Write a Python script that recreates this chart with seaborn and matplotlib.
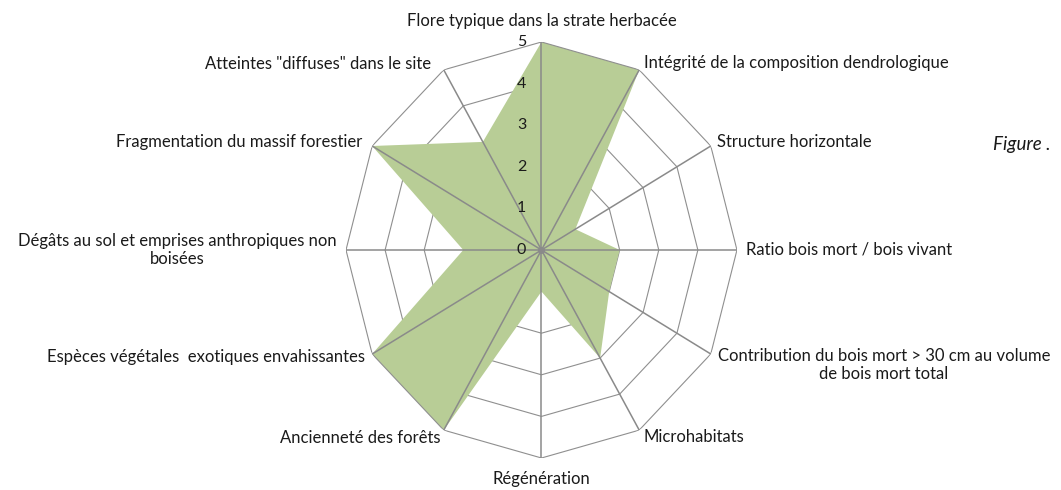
import numpy as np
import pandas as pd
import matplotlib
matplotlib.use("Agg")
import matplotlib.pyplot as plt
import seaborn as sns

sns.set_style("white")
plt.rcParams['font.family'] = ['Lato', 'DejaVu Sans']

# criteres, dans le sens horaire depuis le haut
criteres = [
    "Flore typique dans la strate herbacée",
    "Intégrité de la composition dendrologique",
    "Structure horizontale",
    "Ratio bois mort / bois vivant",
    "Contribution du bois mort > 30 cm au volume\nde bois mort total",
    "Microhabitats",
    "Régénération",
    "Ancienneté des forêts",
    "Espèces végétales  exotiques envahissantes",
    "Dégâts au sol et emprises anthropiques non\nboisées",
    "Fragmentation du massif forestier",
    "Atteintes \"diffuses\" dans le site",
]
notes = [5, 5, 1, 2, 2, 3, 1, 5, 5, 2, 5, 3]
graduations = [0, 1, 2, 3, 4, 5]

df = pd.DataFrame({"critere": criteres, "note": notes})
n = len(df)
df["theta"] = np.arange(n) * 2 * np.pi / n

fig = plt.figure(figsize=(10.61, 4.9), dpi=100)
ax = fig.add_axes([0.3261, 0.0653, 0.3685, 0.849], projection="polar")
ax.set_aspect("auto")   # le radar d'origine est un peu plus haut que large
ax.set_theta_offset(np.pi / 2)
ax.set_theta_direction(-1)
ax.set_ylim(0, 5)
ax.grid(False)
ax.spines["polar"].set_visible(False)
ax.set_xticks([])
ax.set_yticks([])

fond = "#b8cd96"
grille = "#8f8f8f"
rayons = "#8a8a8a"

# aire
th = np.append(df["theta"].values, df["theta"].values[0])
rr = np.append(df["note"].values, df["note"].values[0])
ax.fill(th, rr, color=fond, lw=0, zorder=2)

# grille polygonale (sous l'aire), contour exterieur et rayons par-dessus
for g in graduations[1:]:
    ax.plot(th, [g] * len(th), color=grille, lw=0.8, zorder=3 if g == 5 else 1)
for t in df["theta"]:
    ax.plot([t, t], [0, 5], color=rayons, lw=1.1, zorder=3)
ax.plot([0], [0], marker="o", ms=4, color=rayons, zorder=4)

# etiquettes des graduations
for g in graduations:
    ax.annotate(str(g), xy=(0, g), xytext=(-20, 0), textcoords="offset pixels",
                ha="center", va="center", fontsize=11.5, color="#1a1a1a", zorder=5)

# etiquettes des axes : decalage (px) du centre du texte par rapport au sommet
pos = [
    (0, 21, "center"),
    (5, 7, "left"),
    (6, 4, "left"),
    (9, 0, "left"),
    (7, -11, "left"),
    (4, -7, "left"),
    (0, -21, "center"),
    (-3, -8, "right"),
    (-7, -3, "right"),
    (-9, 0, "right"),
    (-10, 4, "right"),
    (-13, 6, "right"),
]
for (t, lab), (dx, dy, ha) in zip(zip(df["theta"], df["critere"]), pos):
    ax.annotate(lab, xy=(t, 5), xytext=(dx, dy), textcoords="offset pixels",
                ha=ha, va="center", multialignment="center", fontsize=12,
                color="#1a1a1a", annotation_clip=False)

fig.text(0.936, 0.706, "Figure .", fontsize=13.5, style="italic", color="#1a1a1a",
         ha="left", va="center")

fig.savefig("out.png", dpi=100)
